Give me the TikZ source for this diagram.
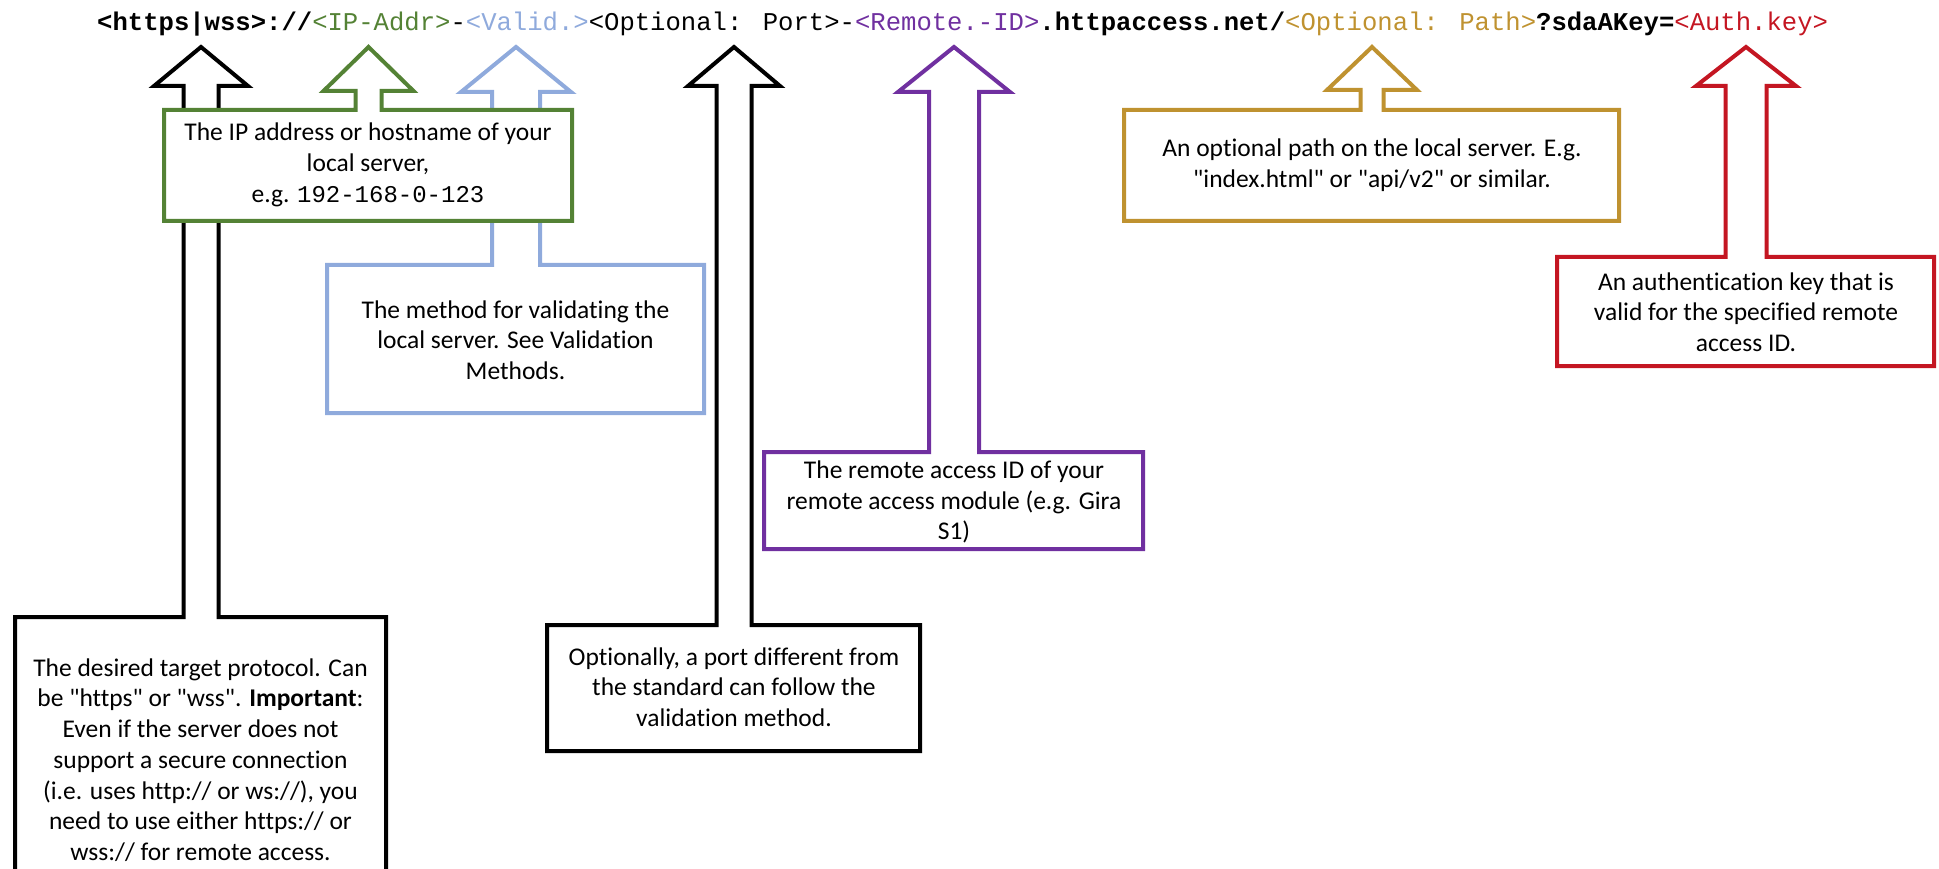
\documentclass[tikz,border=0pt]{standalone}
\usepackage{fontspec}
\setmainfont{Carlito}[Ligatures={TeXOff,CommonOff}]
\newfontfamily\urlfont{Liberation Mono}[Ligatures=TeXOff]
\definecolor{cgreen}{RGB}{84,130,53}
\definecolor{cblue}{RGB}{143,170,220}
\definecolor{cpurple}{RGB}{112,48,160}
\definecolor{cgold}{RGB}{191,146,48}
\definecolor{cred}{RGB}{196,22,34}
% #1 colour, #2 centre x, #3 left, #4 right, #5 top, #6 bottom, #7 shaft half width, #8 head half width, #9 head base y
\newcommand\CallOutShape[9]{%
  \draw[co, draw=#1] (#2,47) -- ({#2+#8},#9) -- ({#2+#7},#9) -- ({#2+#7},#5)
    -- (#4,#5) -- (#4,#6) -- (#3,#6) -- (#3,#5) -- ({#2-#7},#5)
    -- ({#2-#7},#9) -- ({#2-#8},#9) -- cycle;}
\begin{document}
\begin{tikzpicture}[x=1pt,y=-1pt,
  co/.style={fill=white, line width=4pt, line join=miter},
  txt/.style={align=center, font=\fontsize{25.5}{30.7}\selectfont, inner sep=0pt, text=black}]
\useasboundingbox (0,0) rectangle (1939,869);

% URL line
\node[anchor=base west, inner sep=0pt, font=\urlfont\fontsize{25.6}{30}\selectfont] (url) at (97,31)
  {\textbf{<https|wss>://}\textcolor{cgreen}{<IP-Addr>}-\textcolor{cblue}{<Valid.>}<Optional: Port>-\textcolor{cpurple}{<Remote.-ID>}\textbf{.httpaccess.net/}\textcolor{cgold}{<Optional: Path>}\textbf{?sdaAKey=}\textcolor{cred}{<Auth.key>}};

% callout shapes
\CallOutShape{black}{201}{15}{386}{617}{905}{17.5}{47}{86}
\CallOutShape{cblue}{516}{327}{704}{265}{413}{24}{55}{92}
\CallOutShape{cgreen}{368.5}{164}{572}{110}{221}{13}{45}{91}
\CallOutShape{black}{734}{547}{920}{625}{751}{17.5}{46}{86}
\CallOutShape{cpurple}{954}{764}{1143}{452}{549}{25}{56}{92}
\CallOutShape{cgold}{1372}{1124}{1619}{110}{221}{11.5}{45}{90}
\CallOutShape{cred}{1746}{1557}{1934}{257}{366}{20.5}{50}{86}

% texts
\node[txt] (proto) at (200.5,760) {The desired target protocol. Can\\be "https" or "wss". \textbf{Important}:\\Even if the server does not\\support a secure connection\\(i.e. uses http:// or ws://), you\\need to use either https:// or\\wss:// for remote access.};
\node[txt] (ip) at (368,165) {The IP address or hostname of your\\local server,\\e.g. {\urlfont\fontsize{24}{30.7}\selectfont 192-168-0-123}};
\node[txt] (valid) at (515.5,340) {The method for validating the\\local server. See Validation\\Methods.};
\node[txt] (port) at (734,687) {Optionally, a port different from\\the standard can follow the\\validation method.};
\node[txt] (remote) at (954,502) {The remote access ID of your\\remote access module (e.g. Gira\\S1)};
\node[txt] (path) at (1372,165) {An optional path on the local server. E.g.\\"index.html" or "api/v2" or similar.};
\node[txt] (auth) at (1746,312) {An authentication key that is\\valid for the specified remote\\access ID.};
\end{tikzpicture}
\end{document}
